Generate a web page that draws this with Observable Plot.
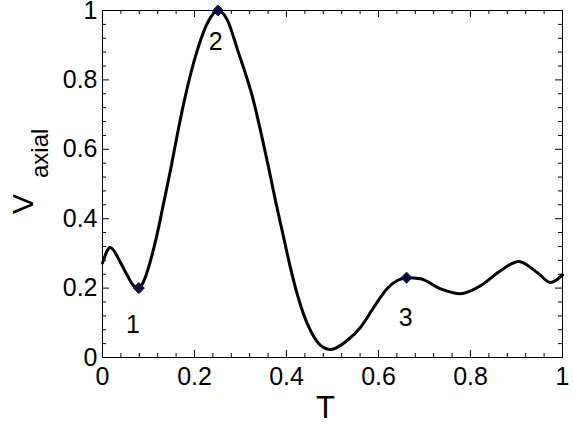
<!DOCTYPE html>
<html>
<head>
<meta charset="utf-8">
<script src="https://cdn.jsdelivr.net/npm/d3@7"></script>
<script src="https://cdn.jsdelivr.net/npm/@observablehq/plot@0.6"></script>
<style>
  html, body { margin: 0; padding: 0; background: #fff; }
  svg { display: block; }
</style>
</head>
<body>
<div id="chart"></div>
<script>
// Curve samples
const T = [0, 0.017, 0.039, 0.054, 0.067, 0.079, 0.093, 0.100, 0.119, 0.134, 0.149, 0.163, 0.178, 0.206, 0.231, 0.251, 0.272, 0.294, 0.328, 0.345, 0.361, 0.376, 0.392, 0.408, 0.423, 0.437, 0.452, 0.474, 0.496, 0.532, 0.561, 0.590, 0.619, 0.641, 0.661, 0.691, 0.735, 0.778, 0.822, 0.865, 0.905, 0.945, 0.974, 1.0];
const V = [0.272, 0.317, 0.274, 0.236, 0.208, 0.200, 0.231, 0.259, 0.357, 0.452, 0.548, 0.645, 0.741, 0.885, 0.971, 1.0, 0.971, 0.885, 0.741, 0.645, 0.548, 0.452, 0.357, 0.262, 0.184, 0.125, 0.078, 0.035, 0.023, 0.049, 0.087, 0.145, 0.199, 0.222, 0.230, 0.227, 0.198, 0.184, 0.207, 0.250, 0.277, 0.245, 0.216, 0.238];

// Marked points
const markT = [0.079, 0.251, 0.661];
const markV = [0.200, 1.000, 0.230];
const markLabels = ["1", "2", "3"];
const labelT = [0.066, 0.246, 0.659];
const labelV = [0.095, 0.908, 0.115];

// Ticks
const majorTicks = [0, 0.2, 0.4, 0.6, 0.8, 1];
const minorTicks = [0.04, 0.08, 0.12, 0.16, 0.24, 0.28, 0.32, 0.36, 0.44, 0.48, 0.52, 0.56, 0.64, 0.68, 0.72, 0.76, 0.84, 0.88, 0.92, 0.96];

const W = 573, H = 428;
const mL = 102, mR = 11, mT = 10, mB = 71;
const pw = W - mL - mR, ph = H - mT - mB;
const font = "'Liberation Sans', Arial, Helvetica, sans-serif";

const curve = T.map((t, i) => ({t, v: V[i]}));
const marks = markT.map((t, i) => ({t, v: markV[i]}));
const labs = labelT.map((t, i) => ({t, v: labelV[i], s: markLabels[i]}));
const fmt = d => String(+d.toFixed(1));

function inwardTicks(values, len) {
  return [
    Plot.tickX(values, {x: d => d, stroke: "#000", strokeWidth: 1, insetTop: ph - len}),
    Plot.tickX(values, {x: d => d, stroke: "#000", strokeWidth: 1, insetBottom: ph - len}),
    Plot.tickY(values, {y: d => d, stroke: "#000", strokeWidth: 1, insetRight: pw - len}),
    Plot.tickY(values, {y: d => d, stroke: "#000", strokeWidth: 1, insetLeft: pw - len})
  ];
}

const chart = Plot.plot({
  width: W, height: H,
  marginLeft: mL, marginRight: mR, marginTop: mT, marginBottom: mB,
  style: {fontFamily: font, background: "#fff", color: "#000", overflow: "visible"},
  x: {domain: [0, 1]},
  y: {domain: [0, 1]},
  marks: [
    Plot.frame({stroke: "#000", strokeWidth: 1}),
    ...inwardTicks(majorTicks, 7),
    ...inwardTicks(minorTicks, 4),
    Plot.axisX(majorTicks, {tickSize: 0, tickPadding: 10, tickFormat: fmt, fontSize: 25, fill: "#000", label: null}),
    Plot.axisY(majorTicks, {tickSize: 0, tickPadding: 5, tickFormat: fmt, fontSize: 25, fill: "#000", label: null}),
    Plot.line(curve, {x: "t", y: "v", stroke: "#000", strokeWidth: 3, curve: "monotone-x"}),
    Plot.dot(marks, {x: "t", y: "v", symbol: "diamond2", r: 5, fill: "#0d0d3d", stroke: "#1a1a5e", strokeWidth: 1}),
    Plot.text(labs, {x: "t", y: "v", text: "s", fontSize: 25, fill: "#000"}),
    Plot.text(["T"], {frameAnchor: "bottom", dy: 60, dx: -7, lineAnchor: "bottom", fontSize: 31, fill: "#000"}),
    Plot.text(["V"], {frameAnchor: "left", rotate: -90, dx: -70, dy: 30, lineAnchor: "bottom", fontSize: 30, fill: "#000"}),
    Plot.text(["axial"], {frameAnchor: "left", rotate: -90, dx: -55, dy: -6, lineAnchor: "bottom", fontSize: 24, fill: "#000"})
  ]
});
document.getElementById("chart").appendChild(chart);
</script>
</body>
</html>
